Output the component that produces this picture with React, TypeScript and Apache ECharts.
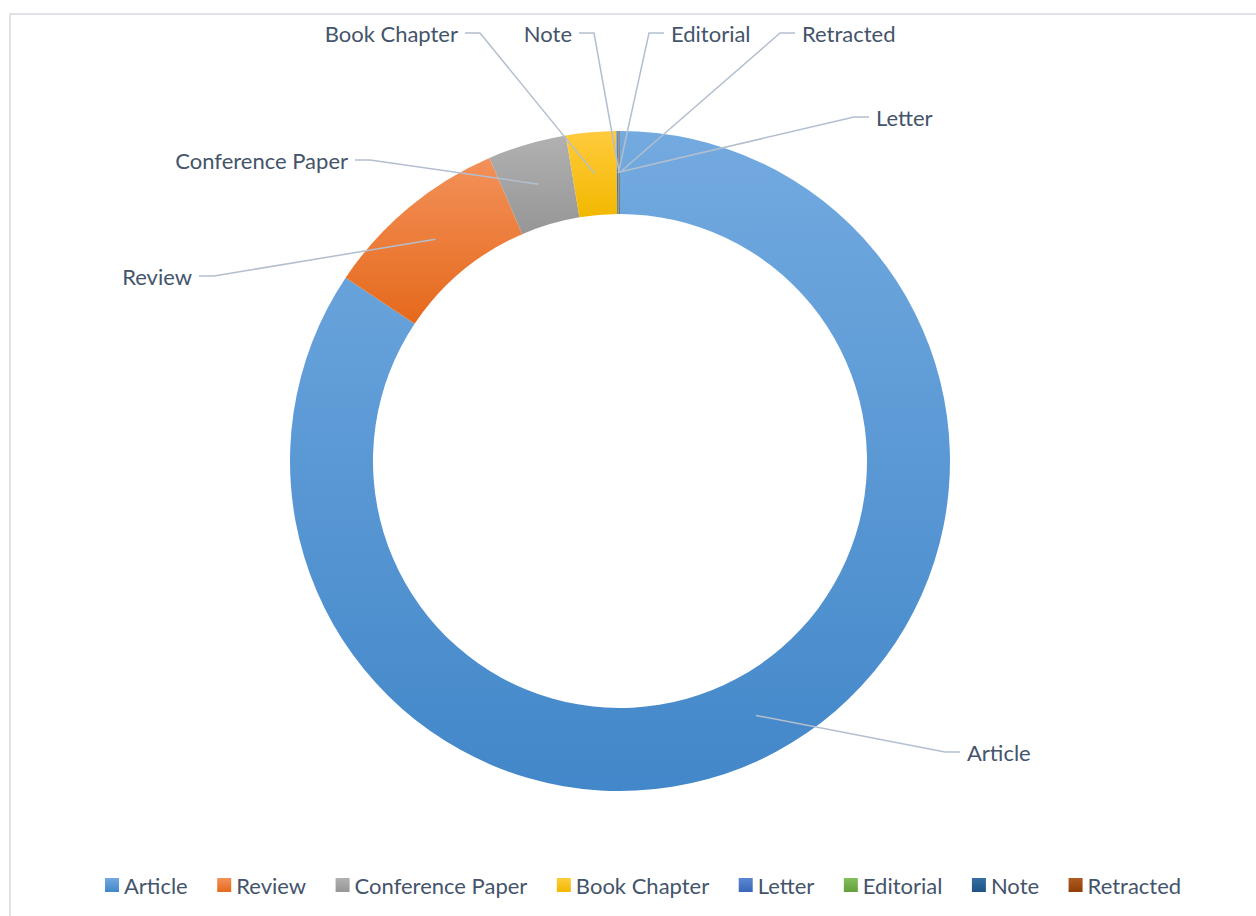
import React, { useEffect, useRef } from "react";
import * as echarts from "echarts";

const categories = [
  "Article",
  "Review",
  "Conference Paper",
  "Book Chapter",
  "Letter",
  "Editorial",
  "Note",
  "Retracted",
];
const counts = [3375, 366, 154, 98, 3, 1, 2, 1];

const colorsTop = ["#73aae0", "#f3915a", "#b1b1b1", "#ffcb3c", "#5b87d2", "#84be5e", "#356fa4", "#b05a22"];
const colorsBottom = ["#4287c9", "#e5691b", "#969696", "#f2b800", "#3a67b7", "#62a03b", "#1f5385", "#8f3e08"];

// label placement (layout, not data)
const labelSides = ["right", "left", "left", "left", "right", "right", "left", "right"];
const labelAnchorX = [967, 192, 348, 458, 876, 671, 572, 802];
const labelAnchorY = [752, 276, 160, 33, 117, 33, 33, 33];

const CX = 620;
const CY = 461;
const R_IN = 247;
const R_OUT = 330;
const TEXT = "#44546a";
const FONT = "Lato";

function midPoint(i: number): number[] {
  const total = counts.reduce((a, b) => a + b, 0);
  let cum = 0;
  for (let k = 0; k < i; k++) cum += counts[k];
  const mid = ((cum + counts[i] / 2) / total) * Math.PI * 2;
  const rm = (R_IN + R_OUT) / 2;
  return [CX + rm * Math.sin(mid), CY - rm * Math.cos(mid)];
}

export default function App() {
  const ref = useRef<HTMLDivElement>(null);
  useEffect(() => {
    if (!ref.current) return;
    const chart = echarts.init(ref.current, undefined, { renderer: "svg" });
    const data = categories.map((name, i) => ({
      name,
      value: counts[i],
      itemStyle: {
        color: new echarts.graphic.LinearGradient(0, 0, 0, 1, [
          { offset: 0, color: colorsTop[i] },
          { offset: 1, color: colorsBottom[i] },
        ]),
      },
    }));
    const labelData = categories.map((name, i) => ({ name, value: counts[i] }));
    chart.setOption({
      animation: false,
      backgroundColor: "#ffffff",
      graphic: [
        {
          type: "rect",
          shape: { x: 10, y: 14, width: 1400, height: 1000 },
          style: { fill: "none", stroke: "#dfe2e7", lineWidth: 2 },
          silent: true,
        },
      ],
      legend: {
        data: categories,
        left: 100,
        top: 869,
        icon: "rect",
        itemWidth: 14,
        itemHeight: 14,
        itemGap: 29.5,
        textStyle: { fontSize: 22, color: TEXT, fontFamily: FONT },
      },
      series: [
        {
          type: "pie",
          name: "types",
          center: [CX, CY],
          radius: [R_IN, R_OUT],
          startAngle: 90,
          clockwise: true,
          data,
          label: { show: false },
          labelLine: { show: false },
          emphasis: { disabled: true },
          z: 2,
        },
        {
          type: "pie",
          name: "labels",
          center: [CX, CY],
          radius: [R_IN, R_OUT],
          startAngle: 90,
          clockwise: true,
          avoidLabelOverlap: false,
          silent: true,
          z: 5,
          data: labelData,
          itemStyle: { color: "rgba(0,0,0,0)" },
          label: {
            show: true,
            position: "outside",
            formatter: "{b}",
            fontSize: 22,
            color: TEXT,
            fontFamily: FONT,
          },
          labelLine: {
            show: true,
            showAbove: true,
            length: 10,
            length2: 10,
            lineStyle: { color: "#b3bfce", width: 1.5 },
          },
          labelLayout: (params: any) => {
            const i = params.dataIndex;
            const side = labelSides[i];
            const ax = labelAnchorX[i];
            const ay = labelAnchorY[i];
            const dir = side === "right" ? -1 : 1;
            const end = [ax + dir * 7, ay];
            const bend = [ax + dir * 22, ay];
            const start = midPoint(i);
            return {
              x: ax,
              y: ay,
              align: side === "right" ? "left" : "right",
              verticalAlign: "middle",
              labelLinePoints: [start, bend, end],
            };
          },
          emphasis: { disabled: true },
        },
      ],
    });
    return () => chart.dispose();
  }, []);
  return (
    <div
      ref={ref}
      style={{ position: "fixed", left: 0, top: 0, width: 1256, height: 916 }}
    />
  );
}
